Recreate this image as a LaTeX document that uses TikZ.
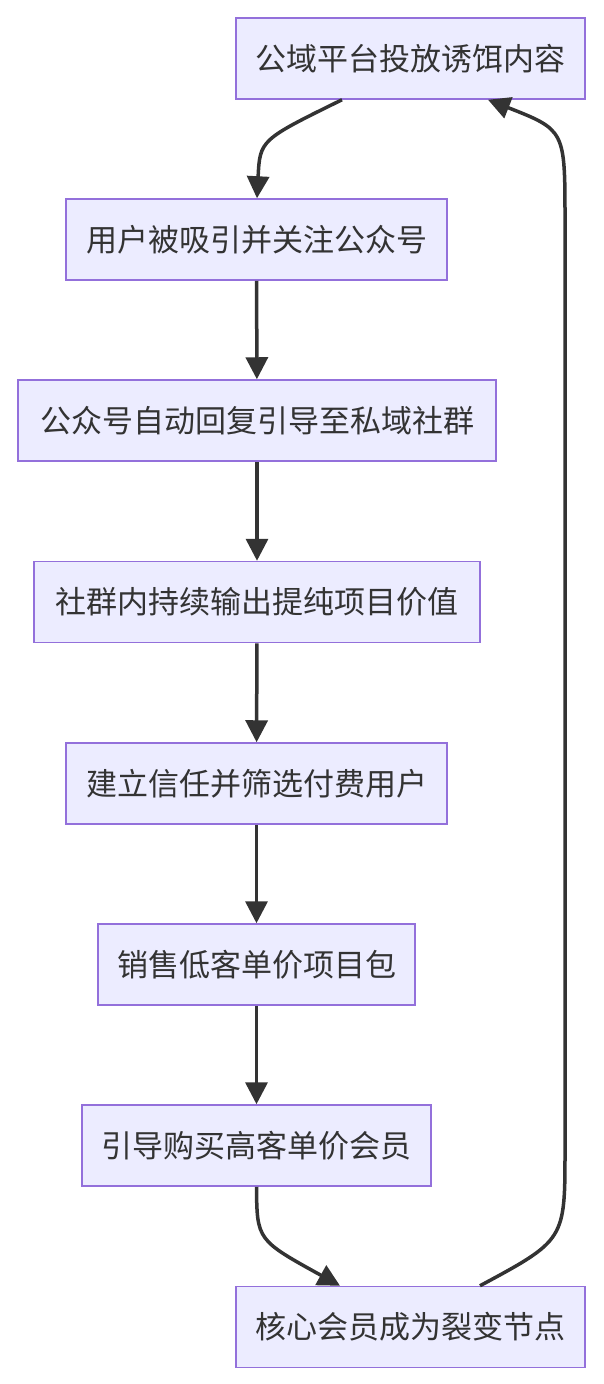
\documentclass[tikz,border=0pt]{standalone}
\usepackage{fontspec}
\newfontfamily\cjk{Noto Sans CJK SC}
\usetikzlibrary{arrows.meta}
\definecolor{nfill}{HTML}{ECECFF}
\definecolor{nline}{HTML}{9370DB}
\definecolor{eline}{HTML}{333333}
\begin{document}
\begin{tikzpicture}[x=1pt,y=-1pt,
  box/.style={draw=nline,fill=nfill,line width=1.5pt,minimum height=81pt,inner sep=0pt,font=\cjk\fontsize{31}{36}\selectfont,text=eline},
  edge/.style={draw=eline,line width=3.5pt,-{Triangle[length=22pt,width=22pt]}}]
\useasboundingbox (0,0) rectangle (604,1384);
\node[box,minimum width=349pt] (n1) at (410.5,58.5) {公域平台投放诱饵内容};
\node[box,minimum width=381pt] (n2) at (256.5,239.5) {用户被吸引并关注公众号};
\node[box,minimum width=478pt] (n3) at (257,420.5) {公众号自动回复引导至私域社群};
\node[box,minimum width=446pt] (n4) at (257,602) {社群内持续输出提纯项目价值};
\node[box,minimum width=381pt] (n5) at (256.5,783.5) {建立信任并筛选付费用户};
\node[box,minimum width=317pt] (n6) at (256.5,964.5) {销售低客单价项目包};
\node[box,minimum width=349pt] (n7) at (256.5,1145.5) {引导购买高客单价会员};
\node[box,minimum width=349pt] (n8) at (410.5,1327) {核心会员成为裂变节点};
\draw[edge] (n1.south -| 342,0) .. controls (260,140) .. (n2.north -| 257,0);
\draw[edge] (n2) -- (n3);
\draw[edge] (n3) -- (n4);
\draw[edge] (n4) -- (n5);
\draw[edge] (n5) -- (n6);
\draw[edge] (n6) -- (n7);
\draw[edge] (n7.south) .. controls (257,1240) .. (n8.north -| 340,0);
\draw[edge] (n8.north -| 480,0) .. controls (565,1240) and (565,1240) .. (565,1150) -- (565,220) .. controls (565,130) .. (n1.south -| 488,0);
\end{tikzpicture}
\end{document}
